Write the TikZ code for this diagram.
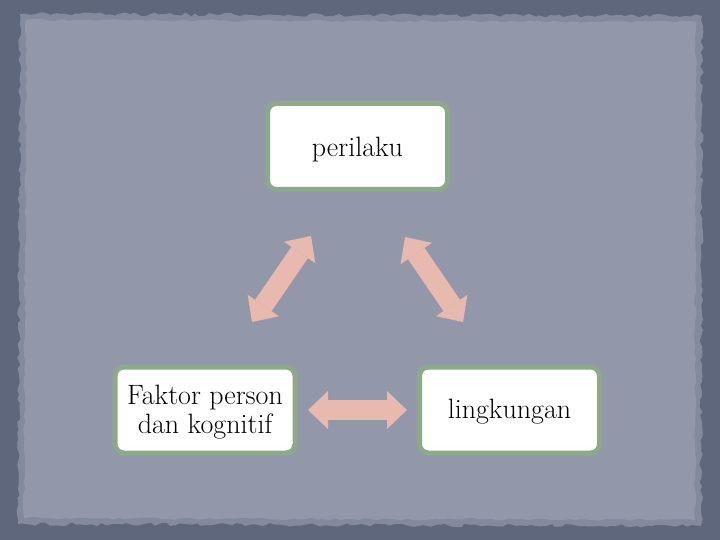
\documentclass[tikz,border=0pt]{standalone}
\usetikzlibrary{arrows.meta,decorations.pathmorphing}
\definecolor{outerbg}{HTML}{5E677B}
\definecolor{innerbg}{HTML}{9298AA}
\definecolor{edgebg}{HTML}{838A9E}
\definecolor{boxgreen}{HTML}{8CA98A}
\definecolor{arrowpink}{HTML}{E8B9AE}
\begin{document}
\begin{tikzpicture}[x=1pt,y=-1pt,
  box/.style={draw=boxgreen, line width=5pt, fill=white, rounded corners=9pt,
    minimum width=180pt, minimum height=86pt, inner sep=0pt, align=center,
    font=\fontsize{28}{29}\selectfont},
  lbl/.style={inner sep=0pt, align=center, font=\fontsize{28}{29}\selectfont},
  dblarrow/.style={draw=arrowpink, line width=20pt,
    {Triangle[length=20pt,width=38pt,line width=0pt]}-{Triangle[length=20pt,width=38pt,line width=0pt]}}]
  \pgfmathsetseed{7}
  \useasboundingbox (0,0) rectangle (720,540);
  \fill[outerbg] (0,0) rectangle (720,540);
  \fill[edgebg, decorate, decoration={random steps, segment length=5pt, amplitude=1.8pt}]
    (20,14) -- (702,16) -- (701,526) -- (18,524) -- cycle;
  \fill[innerbg, decorate, decoration={random steps, segment length=6pt, amplitude=1.2pt}]
    (26,20) -- (696,22) -- (695,520) -- (24,518) -- cycle;

  \node[box] (per) at (357.5,146.5) {};
  \node[box] (fak) at (205,410) {};
  \node[box] (lin) at (509.5,410) {};
  \node[lbl] (perT) at ([yshift=-3pt]per.center) {perilaku};
  \node[lbl] (fakT) at ([yshift=-2pt]fak.center) {Faktor person\\dan kognitif};
  \node[lbl] (linT) at ([yshift=-2pt]lin.center) {lingkungan};

  \coordinate (la) at (252,322);
  \coordinate (lb) at (311,236);
  \coordinate (ra) at (405,237);
  \coordinate (rb) at (463,322);
  \coordinate (ha) at (308,410);
  \coordinate (hb) at (407,410);
  \draw[dblarrow] (la) -- (lb);
  \draw[dblarrow] (ra) -- (rb);
  \draw[dblarrow] (ha) -- (hb);
\end{tikzpicture}
\end{document}
